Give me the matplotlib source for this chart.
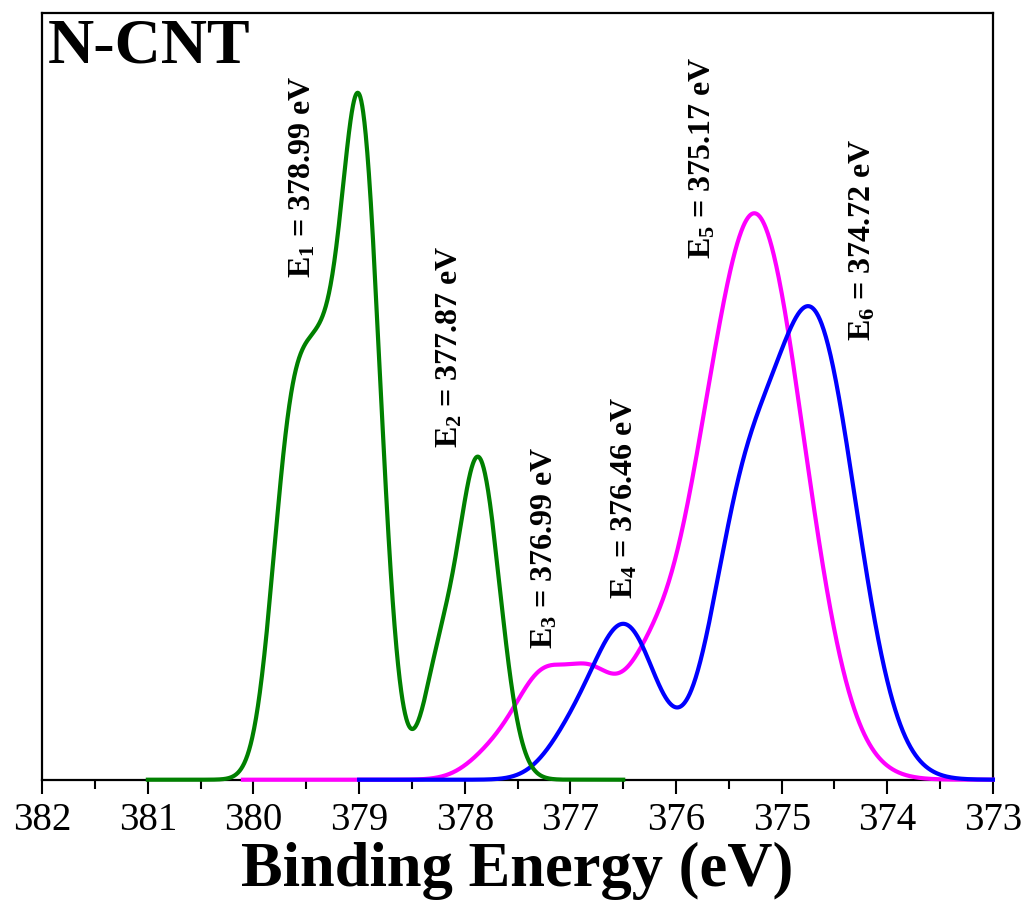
import numpy as np
import matplotlib
matplotlib.use("Agg")
import matplotlib.pyplot as plt
from matplotlib.ticker import MultipleLocator

plt.rcParams["font.family"] = ["Liberation Serif", "DejaVu Serif"]
plt.rcParams["mathtext.fontset"] = "custom"
plt.rcParams["mathtext.rm"] = "Liberation Serif:bold"
plt.rcParams["mathtext.bf"] = "Liberation Serif:bold"
plt.rcParams["mathtext.default"] = "rm"

# ---- fitted peak components (center eV, height, sigma eV) ----
green_centers = [379.65, 379.36, 378.99, 378.26, 377.87]
green_heights = [0.46, 0.40, 0.955, 0.13, 0.465]
green_sigmas = [0.18, 0.17, 0.19, 0.15, 0.20]
green_range = (381.0, 376.5)

magenta_centers = [377.70, 377.25, 376.80, 376.30, 375.85, 375.25]
magenta_heights = [0.04, 0.14, 0.12, 0.12, 0.06, 0.82]
magenta_sigmas = [0.25, 0.25, 0.22, 0.25, 0.25, 0.46]
magenta_range = (380.1, 373.0)

blue_centers = [377.00, 376.48, 375.40, 374.70]
blue_heights = [0.05, 0.22, 0.30, 0.665]
blue_sigmas = [0.25, 0.30, 0.30, 0.40]
blue_range = (379.0, 373.0)

peak_labels = ["E$_1$ = 378.99 eV", "E$_2$ = 377.87 eV", "E$_3$ = 376.99 eV",
               "E$_4$ = 376.46 eV", "E$_5$ = 375.17 eV", "E$_6$ = 374.72 eV"]

x_ticks = [382, 381, 380, 379, 378, 377, 376, 375, 374, 373]

# label anchor points (x center, y bottom) in data units
label_x = [379.53, 378.14, 377.24, 376.49, 375.75, 374.23]
label_y = [0.730, 0.482, 0.190, 0.262, 0.757, 0.638]


def envelope(x, centers, heights, sigmas):
    y = np.zeros_like(x)
    for c, h, s in zip(centers, heights, sigmas):
        y += h * np.exp(-(x - c) ** 2 / (2 * s ** 2))
    return y


fig = plt.figure(figsize=(10.30, 9.13), dpi=100)
ax = fig.add_axes([0.041, 0.146, 0.923, 0.840])

curves = [
    (magenta_centers, magenta_heights, magenta_sigmas, magenta_range, "#ff00ff"),
    (blue_centers, blue_heights, blue_sigmas, blue_range, "#0000ff"),
    (green_centers, green_heights, green_sigmas, green_range, "#008000"),
]
for centers, heights, sigmas, (x0, x1), color in curves:
    xs = np.linspace(x1, x0, 1500)
    ax.plot(xs, envelope(xs, centers, heights, sigmas), color=color, lw=3.0,
            zorder=3, clip_on=False)

for txt, lx, ly in zip(peak_labels, label_x, label_y):
    ax.text(lx, ly, txt, rotation=90, ha="center", va="bottom",
            fontsize=23, fontweight="bold")

ax.text(0.006, 0.993, "N-CNT", transform=ax.transAxes, ha="left", va="top",
        fontsize=46, fontweight="bold")

ax.set_xlim(382, 373)
ax.set_ylim(0, 1.115)
ax.set_xticks(x_ticks)
ax.set_xticklabels([str(t) for t in x_ticks])
ax.xaxis.set_minor_locator(MultipleLocator(0.5))
ax.set_yticks([])
ax.tick_params(axis="x", which="major", direction="out", length=10, width=1.5,
               labelsize=28, pad=6)
ax.tick_params(axis="x", which="minor", direction="out", length=6.5, width=1.5)
for sp in ax.spines.values():
    sp.set_linewidth(1.6)

ax.set_xlabel("Binding Energy (eV)", fontsize=45, fontweight="bold", labelpad=2)

fig.savefig("out.png", dpi=100)
